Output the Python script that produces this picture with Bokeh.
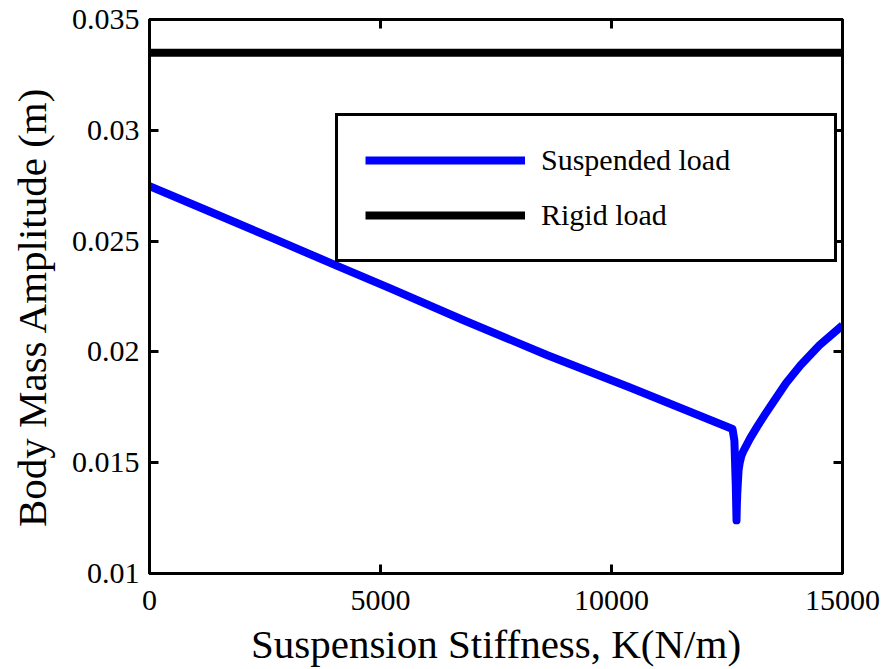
from bokeh.plotting import figure
from bokeh.models import LinearAxis, FixedTicker, CustomJSTickFormatter, Range1d, Legend, LegendItem
from bokeh.embed import file_html
from bokeh.resources import INLINE

# Data
stiffness_susp = [0, 1250, 2700, 4100, 5200, 6800, 8600, 10400, 12620, 12660, 12690, 12706,
                  12712, 12722, 12735, 12750, 12775, 12810, 12860, 13000, 13160,
                  13330, 13506, 13780, 14091, 14500, 15000]
amp_susp = [0.02748, 0.02638, 0.02510, 0.02385, 0.02288, 0.02143, 0.01986, 0.01839, 0.01652,
            0.0160, 0.0140, 0.0124,
            0.0130, 0.0136, 0.0141, 0.01465, 0.0150, 0.0153, 0.01555, 0.0161, 0.01665,
            0.0172, 0.01775, 0.0186, 0.0194, 0.0203, 0.0212]
stiffness_rigid = [0, 15000]
amp_rigid = [0.0335, 0.0335]

x_ticks = [0, 5000, 10000, 15000]
y_ticks = [0.01, 0.015, 0.02, 0.025, 0.03, 0.035]

FONT = "Liberation Serif"

p = figure(width=885, height=669, output_backend="svg", toolbar_location=None,
           x_range=Range1d(0, 15000), y_range=Range1d(0.01, 0.035),
           min_border_left=149, min_border_right=43, min_border_top=19, min_border_bottom=96)
p.grid.visible = False
p.outline_line_color = "black"
p.outline_line_width = 3
p.background_fill_color = "white"
p.border_fill_color = "white"

l1 = p.line(stiffness_susp, amp_susp, line_color="#0000FF", line_width=8, line_join="round")
l2 = p.line(stiffness_rigid, amp_rigid, line_color="black", line_width=8)

yfmt = CustomJSTickFormatter(code="return tick.toFixed(3).replace(/0+$/, '');")

def style(ax, ticks, show_labels=True):
    ax.ticker = FixedTicker(ticks=ticks)
    ax.minor_tick_line_color = None
    ax.major_tick_in = 9
    ax.major_tick_out = 0
    ax.major_tick_line_width = 3
    ax.major_tick_line_color = "black"
    ax.axis_line_width = 3
    ax.axis_line_color = "black"
    ax.major_label_text_font = FONT
    ax.major_label_text_color = "black"
    ax.axis_label_text_font = FONT
    ax.axis_label_text_font_style = "normal"
    ax.axis_label_text_color = "black"
    if show_labels:
        ax.major_label_text_font_size = "30px"
        ax.axis_label_text_font_size = "41px"
    else:
        ax.major_label_text_font_size = "1px"
        ax.major_label_text_color = None
        ax.major_label_standoff = 0

xa = p.xaxis[0]
style(xa, x_ticks)
xa.axis_label = "Suspension Stiffness, K(N/m)"
xa.major_label_standoff = 17
xa.axis_label_standoff = 8

ya = p.yaxis[0]
style(ya, y_ticks)
ya.formatter = yfmt
ya.axis_label = "Body Mass Amplitude (m)\u00a0\u00a0"
ya.major_label_standoff = 10
ya.axis_label_standoff = 14

ra = LinearAxis()
style(ra, y_ticks, show_labels=False)
p.add_layout(ra, "right")
ta = LinearAxis()
style(ta, x_ticks, show_labels=False)
p.add_layout(ta, "above")

legend = Legend(items=[LegendItem(label="Suspended load", renderers=[l1]),
                       LegendItem(label="Rigid load", renderers=[l2])],
                location=(186, 311))
legend.label_text_font = FONT
legend.label_text_font_size = "30px"
legend.label_text_color = "black"
legend.glyph_width = 160
legend.glyph_height = 30
legend.label_height = 30
legend.label_width = 266
legend.label_standoff = 16
legend.padding = 27
legend.spacing = 21
legend.margin = 0
legend.border_line_color = "black"
legend.border_line_width = 3
legend.border_line_alpha = 1
legend.background_fill_color = "white"
legend.background_fill_alpha = 1
p.add_layout(legend, "center")

open("out.html", "w").write(file_html(p, INLINE))
